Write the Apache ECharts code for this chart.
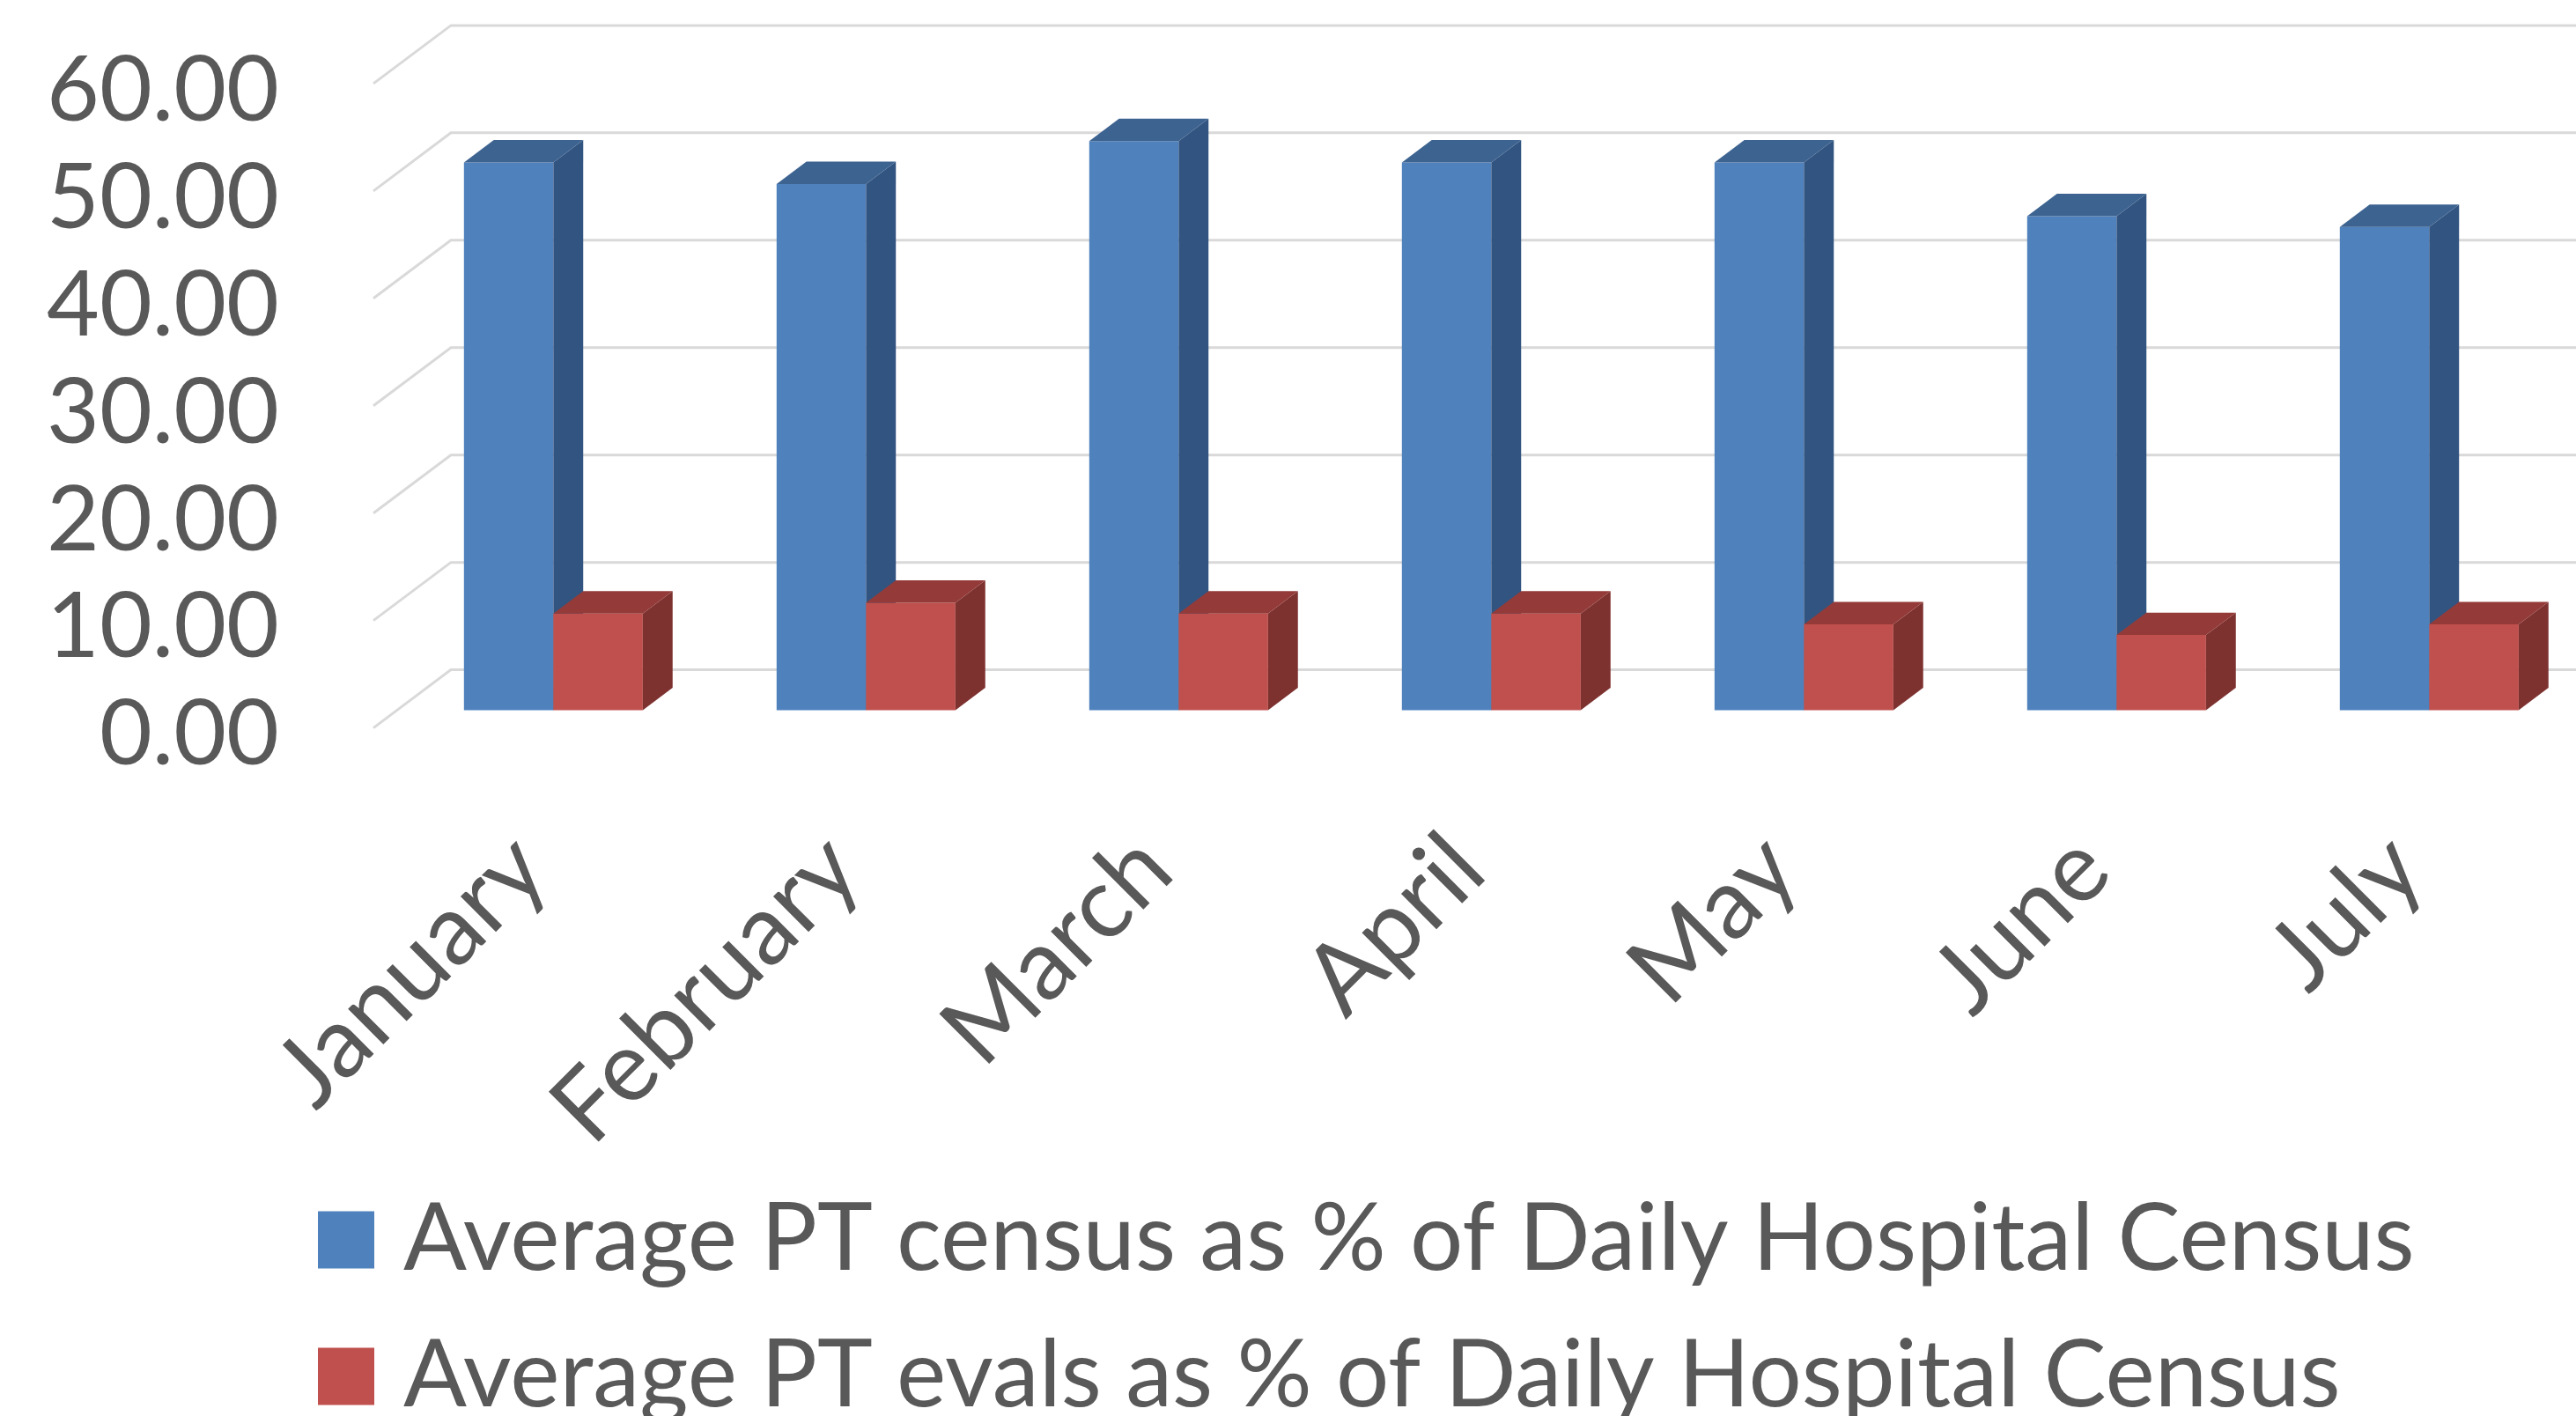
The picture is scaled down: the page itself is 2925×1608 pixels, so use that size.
<!DOCTYPE html>
<html>
<head>
<meta charset="utf-8">
<script src="https://cdn.jsdelivr.net/npm/echarts@6/dist/echarts.min.js"></script>
<style>
  html, body { margin: 0; padding: 0; background: #fff; }
  #chart { width: 2925px; height: 1608px; }
</style>
</head>
<body>
<div id="chart"></div>
<script>
// data
const months = ['January', 'February', 'March', 'April', 'May', 'June', 'July']
const ptCensus = [51, 49, 53, 51, 51, 46, 45]
const ptEvals = [9, 10, 9, 9, 8, 7, 8]
const yTicks = [0, 10, 20, 30, 40, 50, 60]

const censusName = 'Average PT census as % of Daily Hospital Census'
const evalsName = 'Average PT evals as % of Daily Hospital Census'

const FONT = 'Lato'
const TEXT = '#595959'

// fake 3d: floor depth vector, where the bars stand and how deep they are
const FLOOR = [88, -66]
const FRONT = 0.305
const DEPTH = 0.385
const BAR_RATIO = 0.286

// size a font so the text spans the width seen in the picture
function fitFont(text, width) {
  const ctx = document.createElement('canvas').getContext('2d')
  ctx.font = '100px ' + FONT
  return 100 * width / ctx.measureText(text).width
}

const axisSize = fitFont('60.00', 264)
const monthSize = fitFont('January', 380)
const legendSize = fitFont(censusName, 2284)

function boxItem(side, faces) {
  return function (params, api) {
    const idx = api.value(0)
    const base = api.coord([idx, 0])
    const top = api.coord([idx, api.value(1)])
    const w = api.size([1, 0])[0] * BAR_RATIO
    const x0 = base[0] + FLOOR[0] * FRONT + (side < 0 ? -w : 0)
    const yb = base[1] + FLOOR[1] * FRONT
    const yt = top[1] + FLOOR[1] * FRONT
    const dx = FLOOR[0] * DEPTH
    const dy = FLOOR[1] * DEPTH
    return {
      type: 'group',
      children: [
        { type: 'rect', shape: { x: x0, y: yt, width: w, height: yb - yt }, style: { fill: faces[0] } },
        {
          type: 'polygon',
          shape: { points: [[x0 + w, yt], [x0 + w + dx, yt + dy], [x0 + w + dx, yb + dy], [x0 + w, yb]] },
          style: { fill: faces[1] },
        },
        {
          type: 'polygon',
          shape: { points: [[x0, yt], [x0 + dx, yt + dy], [x0 + w + dx, yt + dy], [x0 + w, yt]] },
          style: { fill: faces[2] },
        },
      ],
    }
  }
}

function gridItem(params, api) {
  const p = api.coord([0, api.value(1)])
  const x0 = p[0] - api.size([1, 0])[0] / 2
  const y = p[1]
  return {
    type: 'polyline',
    shape: { points: [[x0, y], [x0 + FLOOR[0], y + FLOOR[1]], [3000, y + FLOOR[1]]] },
    style: { stroke: '#D9D9D9', lineWidth: 3, fill: null },
    silent: true,
  }
}

const legendBase = {
  orient: 'vertical',
  left: 356,
  icon: 'rect',
  itemWidth: 64,
  itemHeight: 65,
  textStyle: {
    fontSize: legendSize,
    fontFamily: FONT,
    color: TEXT,
    lineHeight: 120,
    padding: [0, 0, 0, 28],
  },
}

const chart = echarts.init(document.getElementById('chart'))

chart.setOption({
  animation: false,
  backgroundColor: '#fff',
  grid: { left: 424, right: 16, top: 94.9, bottom: 781.4, containLabel: false },
  xAxis: {
    type: 'category',
    data: months,
    axisLine: { show: false },
    axisTick: { show: false },
    splitLine: { show: false },
    axisLabel: { rotate: 45, margin: 142, fontSize: monthSize, fontFamily: FONT, color: TEXT, interval: 0 },
  },
  yAxis: {
    type: 'value',
    min: 0,
    max: 60,
    interval: 10,
    axisLine: { show: false },
    axisTick: { show: false },
    splitLine: { show: false },
    axisLabel: {
      margin: 107,
      fontSize: axisSize,
      fontFamily: FONT,
      color: TEXT,
      verticalAlign: 'top',
      lineHeight: 17,
      formatter: v => v.toFixed(2),
    },
  },
  legend: [
    Object.assign({}, legendBase, { data: [censusName], top: 1343 }),
    Object.assign({}, legendBase, { data: [evalsName], top: 1498 }),
  ],
  series: [
    {
      type: 'custom',
      name: 'grid',
      z: 1,
      renderItem: gridItem,
      data: yTicks.map(v => [0, v]),
      encode: { x: 0, y: 1 },
      silent: true,
    },
    {
      type: 'custom',
      name: censusName,
      z: 2,
      itemStyle: { color: '#4F81BD' },
      renderItem: boxItem(-1, ['#4F81BD', '#325480', '#3D6390']),
      data: ptCensus.map((v, i) => [i, v]),
      encode: { x: 0, y: 1 },
    },
    {
      type: 'custom',
      name: evalsName,
      z: 3,
      itemStyle: { color: '#C0504D' },
      renderItem: boxItem(1, ['#C0504D', '#7E3230', '#943B39']),
      data: ptEvals.map((v, i) => [i, v]),
      encode: { x: 0, y: 1 },
    },
  ],
})
</script>
</body>
</html>
